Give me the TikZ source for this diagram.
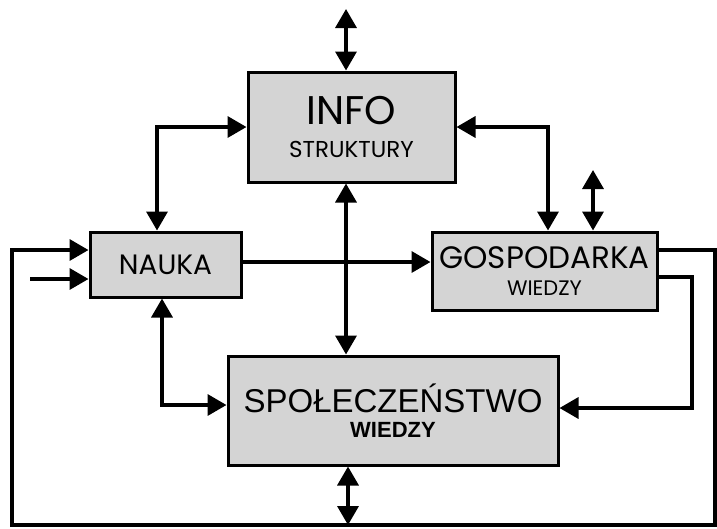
\documentclass[tikz,border=0pt]{standalone}
\usepackage{fontspec}
\setmainfont{Poppins}
\newfontfamily\arialfont{Liberation Sans}
\usetikzlibrary{arrows.meta}
\newcommand{\fs}[1]{\fontsize{#1}{#1}\selectfont}
\tikzset{
  box/.style={draw,line width=3pt,fill=black!17,inner sep=0pt,align=center},
  wire/.style={line width=3.5pt},
  link/.style={wire,-{Triangle[length=19pt,width=21pt]}},
  dbl/.style={wire,{Triangle[length=19pt,width=21pt]}-{Triangle[length=19pt,width=21pt]}}
}
\begin{document}
\begin{tikzpicture}[x=1pt,y=-1pt]
\useasboundingbox (0,0) rectangle (717,528);
% boxes
\node[box,minimum width=207pt,minimum height=110pt] (info) at (351.5,127) {\fs{40}INFO\\[15pt]\fs{23}STRUKTURY};
\node[box,minimum width=151pt,minimum height=65pt] (nauka) at (165.5,264.5) {\fs{28}NAUKA};
\node[box,minimum width=225pt,minimum height=78pt] (gosp) at (544.5,271) {\fs{31}GOSPODARKA\\[12pt]\fs{21}WIEDZY};
\node[box,minimum width=330pt,minimum height=109pt] (spol) at (393,410.5) {\arialfont\fs{33}SPOŁECZEŃSTWO\\[8pt]\arialfont\bfseries\fs{22}WIEDZY};
% free ends
\coordinate (infoT) at (346,9);
\coordinate (gospT) at (593,170);
\coordinate (spolB) at (348,525);
\coordinate (inL) at (30,279);
\coordinate (loopR) at (715,250);
\coordinate (loopL) at (12,525);
\coordinate (backR) at (692,277);
% connectors
\draw[dbl] (infoT) -- (infoT |- info.north);
\draw[dbl] (gospT) -- (gospT |- gosp.north);
\draw[dbl] (spolB |- spol.south) -- (spolB);
\draw[dbl] ([xshift=-5.5pt]info.south) -- ([xshift=-5.5pt]info.south |- spol.north);
\draw[dbl] ([xshift=-8.5pt]nauka.north) |- (info.west);
\draw[dbl] (info.east) -| ([xshift=3.5pt]gosp.north);
\draw[dbl] ([xshift=-3.5pt]nauka.south) |- ([yshift=5.5pt]spol.west);
\draw[link] ([yshift=2.5pt]nauka.east) -- ([yshift=2.5pt]nauka.east -| gosp.west);
\draw[link] (inL) -- (inL -| nauka.west);
\draw[link] (loopR -| gosp.east) -- (loopR) |- (loopL) |- (loopR -| nauka.west);
\draw[link] (backR -| gosp.east) -- (backR) |- ([yshift=2.5pt]spol.east);
\end{tikzpicture}
\end{document}
